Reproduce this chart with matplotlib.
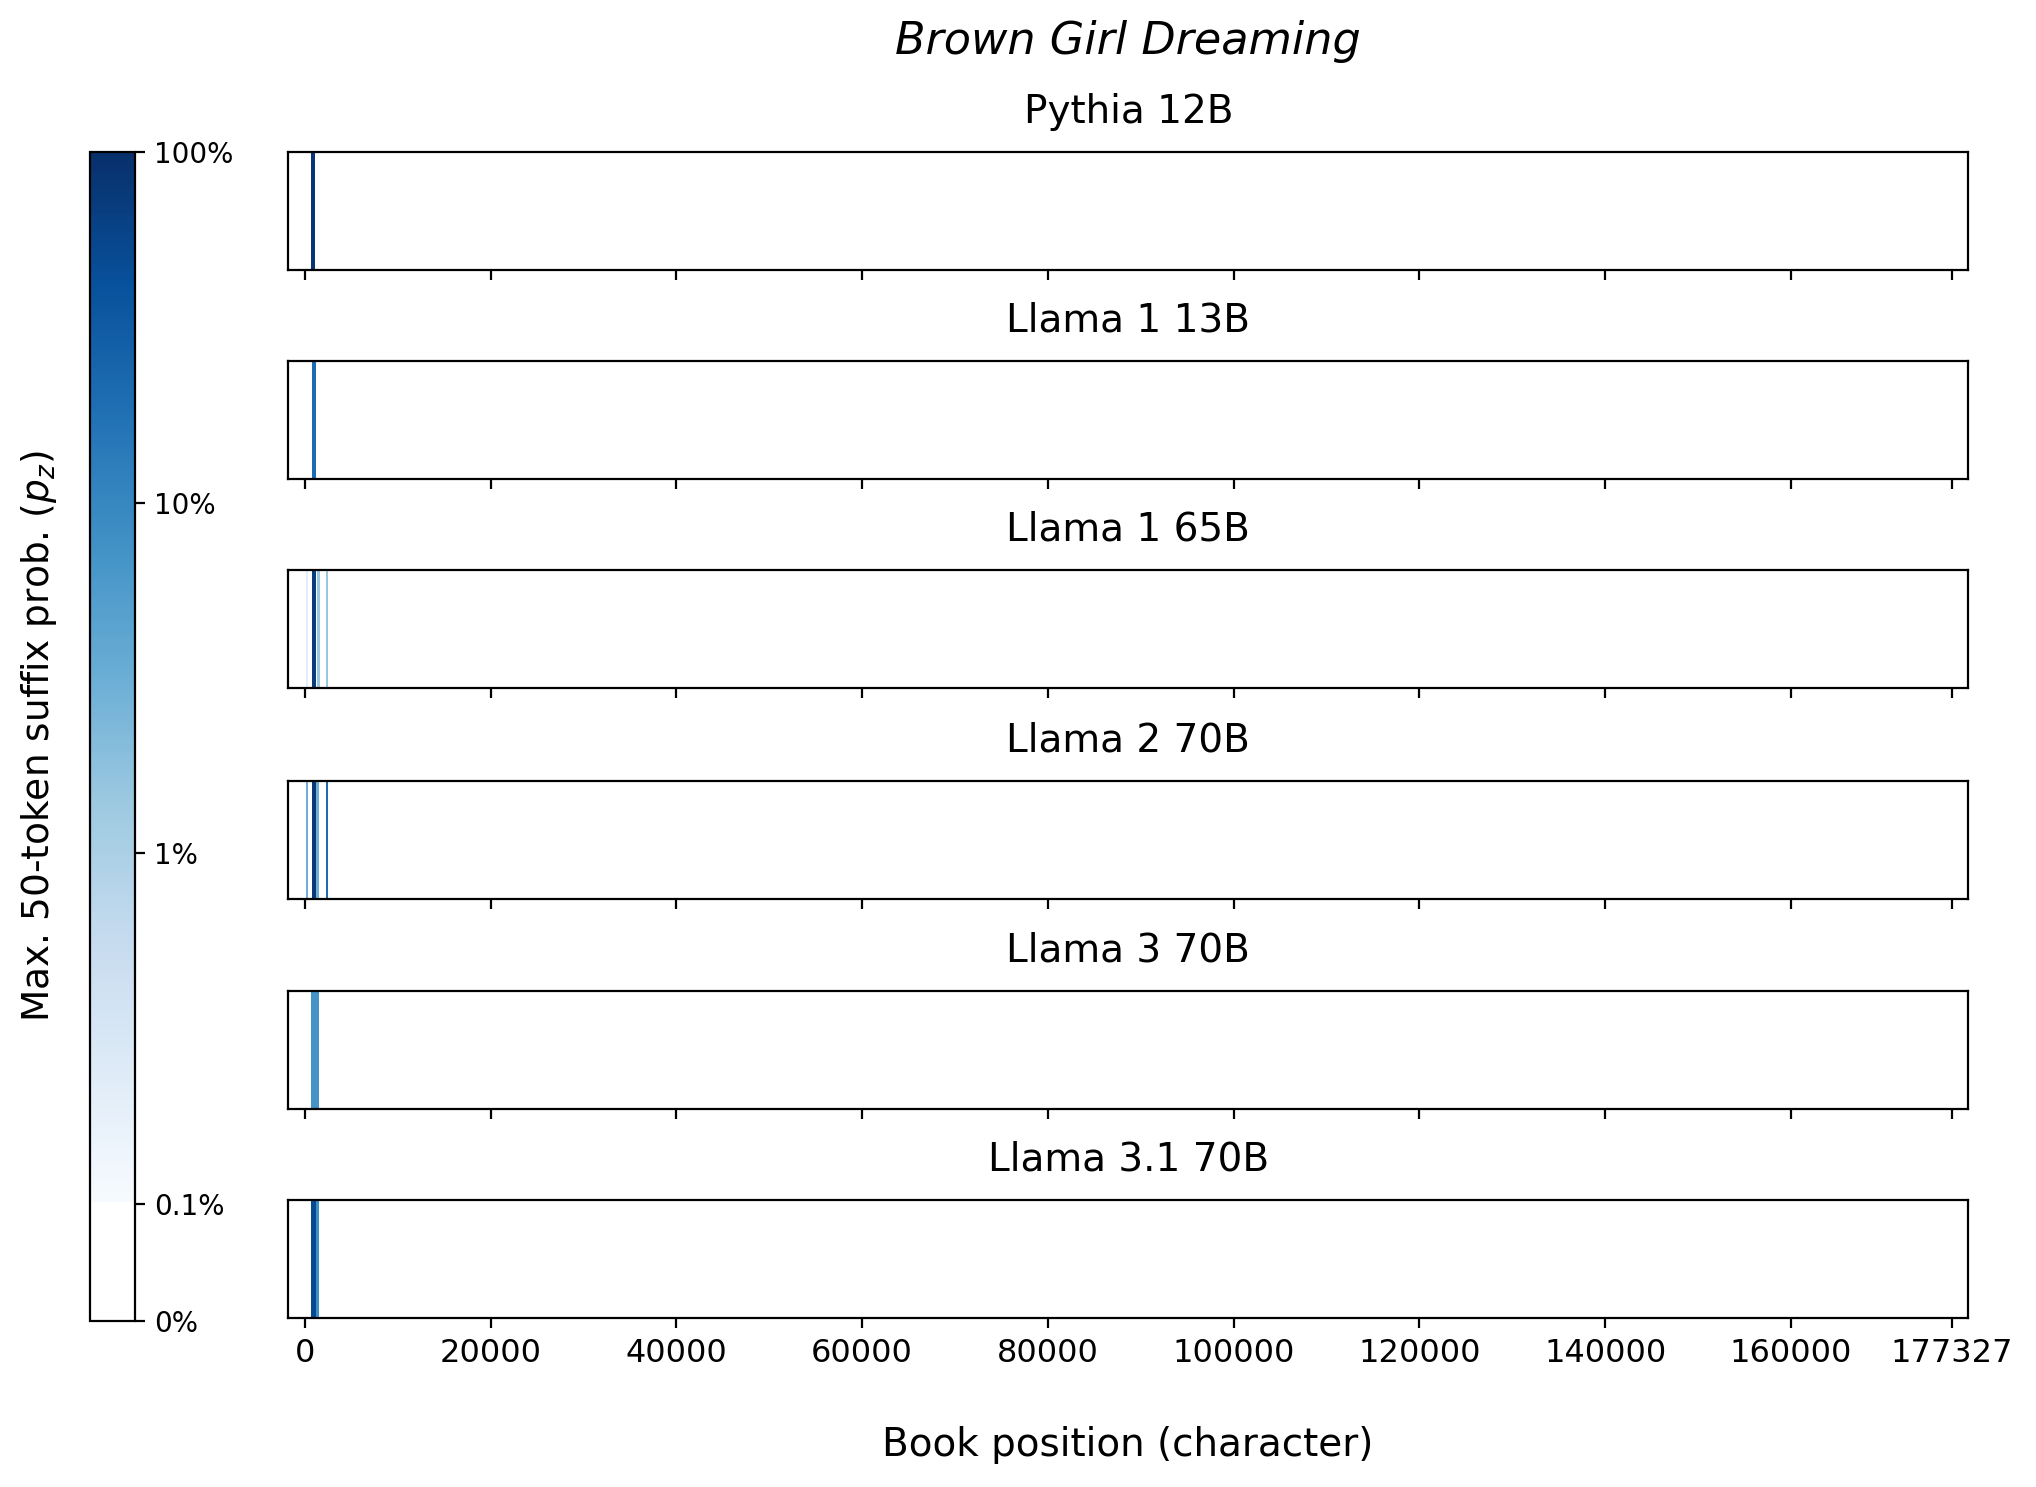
import numpy as np
import matplotlib
matplotlib.use("Agg")
from matplotlib import pyplot as plt
from matplotlib.colors import ListedColormap, Normalize
from matplotlib.cm import ScalarMappable

BOOK_LEN = 177327
book_title = "Brown Girl Dreaming"
models = ["Pythia 12B", "Llama 1 13B", "Llama 1 65B", "Llama 2 70B", "Llama 3 70B", "Llama 3.1 70B"]

# (start char, end char, max suffix prob) for each model
pythia_12b = [(650, 1150, 0.8)]
llama1_13b = [(790, 1160, 0.2)]
llama1_65b = [(100, 330, 0.002), (750, 1180, 0.7), (1290, 1620, 0.015), (2260, 2480, 0.015)]
llama2_70b = [(100, 330, 0.03), (750, 1180, 0.75), (1180, 1500, 0.03), (2260, 2480, 0.2)]
llama3_70b = [(650, 1500, 0.07)]
llama31_70b = [(650, 1180, 0.5), (1180, 1500, 0.08)]
segments = [pythia_12b, llama1_13b, llama1_65b, llama2_70b, llama3_70b, llama31_70b]

cbar_ticks = [0.0, 0.001, 0.01, 0.1, 1.0]
cbar_labels = ["0%", "0.1%", "1%", "10%", "100%"]
x_ticks = [0, 20000, 40000, 60000, 80000, 100000, 120000, 140000, 160000, BOOK_LEN]


def to_scale(p):
    # linear below 0.1%, log above it
    p = np.asarray(p, dtype=float)
    lo = p / 1e-3 * 0.1
    hi = 0.1 + 0.3 * (np.log10(np.maximum(p, 1e-3)) + 3)
    return np.where(p < 1e-3, lo, hi)


blues = plt.get_cmap("Blues")
t = np.linspace(0, 1, 512)
colors = [(1, 1, 1, 1) if v < 0.1 else blues((v - 0.1) / 0.9) for v in t]
cmap = ListedColormap(colors)
norm = Normalize(0, 1)

fig = plt.figure(figsize=(10.18, 7.435), dpi=200)

left, right = 0.1416, 0.9668
tops = [0.8978, 0.7572, 0.6166, 0.4751, 0.3336, 0.1930]
height = 0.0795

axes = []
for i, name in enumerate(models):
    ax = fig.add_axes([left, tops[i] - height, right - left, height])
    for start, end, p in segments[i]:
        ax.bar(start, 1, width=end - start, align="edge", color=cmap(norm(float(to_scale(p)))), linewidth=0)
    ax.set_xlim(-0.01 * BOOK_LEN, 1.01 * BOOK_LEN)
    ax.set_ylim(0, 1)
    ax.set_yticks([])
    ax.set_xticks(x_ticks)
    ax.set_title(name, fontsize=14, pad=10.5)
    if i < len(models) - 1:
        ax.tick_params(axis="x", labelbottom=False)
    else:
        ax.tick_params(axis="x", labelsize=11.5)
    axes.append(ax)

cax = fig.add_axes([0.044, 0.1118, 0.0223, 0.7860])
sm = ScalarMappable(norm=norm, cmap=cmap)
cb = fig.colorbar(sm, cax=cax)
cb.set_ticks(to_scale(cbar_ticks))
cb.set_ticklabels(cbar_labels)
cb.ax.tick_params(labelsize=10)
cax.yaxis.set_ticks_position("right")
fig.text(0.019, 0.505, "Max. 50-token suffix prob. ($p_z$)", rotation=90, va="center", ha="center", fontsize=13.5)

fig.text(0.554, 0.972, book_title, fontsize=16, style="italic", ha="center", va="center")
fig.text(0.554, 0.028, "Book position (character)", ha="center", va="center", fontsize=14)

fig.savefig("out.png", dpi=200)
